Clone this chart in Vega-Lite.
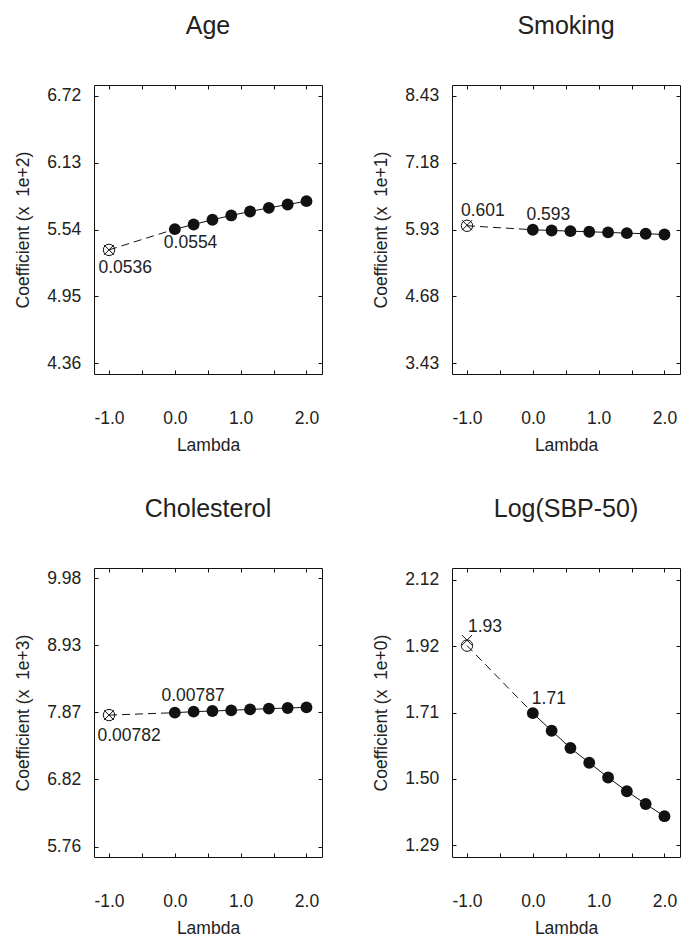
{
  "$schema": "https://vega.github.io/schema/vega-lite/v6.json",
  "background": "white",
  "padding": {"left": 14, "top": 13, "right": 0, "bottom": 0},
  "datasets": {
    "pts": [
      {"panel": "Age", "lambda": -1, "coef": 5.36, "kind": "open"},
      {"panel": "Age", "lambda": -1, "coef": 5.36, "kind": "cross", "label": "0.0536"},
      {"panel": "Age", "lambda": 0, "coef": 5.543, "kind": "fit", "label": "0.0554"},
      {"panel": "Age", "lambda": 0.2857, "coef": 5.584, "kind": "fit"},
      {"panel": "Age", "lambda": 0.5714, "coef": 5.626, "kind": "fit"},
      {"panel": "Age", "lambda": 0.8571, "coef": 5.664, "kind": "fit"},
      {"panel": "Age", "lambda": 1.1429, "coef": 5.699, "kind": "fit"},
      {"panel": "Age", "lambda": 1.4286, "coef": 5.731, "kind": "fit"},
      {"panel": "Age", "lambda": 1.7143, "coef": 5.761, "kind": "fit"},
      {"panel": "Age", "lambda": 2, "coef": 5.79, "kind": "fit"},
      {"panel": "Smoking", "lambda": -1, "coef": 6.0, "kind": "open"},
      {"panel": "Smoking", "lambda": -1, "coef": 6.01, "kind": "cross", "label": "0.601"},
      {"panel": "Smoking", "lambda": 0, "coef": 5.925, "kind": "fit", "label": "0.593"},
      {"panel": "Smoking", "lambda": 0.2857, "coef": 5.912, "kind": "fit"},
      {"panel": "Smoking", "lambda": 0.5714, "coef": 5.899, "kind": "fit"},
      {"panel": "Smoking", "lambda": 0.8571, "coef": 5.888, "kind": "fit"},
      {"panel": "Smoking", "lambda": 1.1429, "coef": 5.875, "kind": "fit"},
      {"panel": "Smoking", "lambda": 1.4286, "coef": 5.862, "kind": "fit"},
      {"panel": "Smoking", "lambda": 1.7143, "coef": 5.851, "kind": "fit"},
      {"panel": "Smoking", "lambda": 2, "coef": 5.837, "kind": "fit"},
      {"panel": "Cholesterol", "lambda": -1, "coef": 7.83, "kind": "open"},
      {"panel": "Cholesterol", "lambda": -1, "coef": 7.83, "kind": "cross", "label": "0.00782"},
      {"panel": "Cholesterol", "lambda": 0, "coef": 7.868, "kind": "fit", "label": "0.00787"},
      {"panel": "Cholesterol", "lambda": 0.2857, "coef": 7.884, "kind": "fit"},
      {"panel": "Cholesterol", "lambda": 0.5714, "coef": 7.895, "kind": "fit"},
      {"panel": "Cholesterol", "lambda": 0.8571, "coef": 7.905, "kind": "fit"},
      {"panel": "Cholesterol", "lambda": 1.1429, "coef": 7.92, "kind": "fit"},
      {"panel": "Cholesterol", "lambda": 1.4286, "coef": 7.931, "kind": "fit"},
      {"panel": "Cholesterol", "lambda": 1.7143, "coef": 7.942, "kind": "fit"},
      {"panel": "Cholesterol", "lambda": 2, "coef": 7.952, "kind": "fit"},
      {"panel": "LogSBP", "lambda": -1, "coef": 1.917, "kind": "open"},
      {"panel": "LogSBP", "lambda": -1, "coef": 1.934, "kind": "cross", "label": "1.93"},
      {"panel": "LogSBP", "lambda": 0, "coef": 1.706, "kind": "fit", "label": "1.71"},
      {"panel": "LogSBP", "lambda": 0.2857, "coef": 1.651, "kind": "fit"},
      {"panel": "LogSBP", "lambda": 0.5714, "coef": 1.597, "kind": "fit"},
      {"panel": "LogSBP", "lambda": 0.8571, "coef": 1.551, "kind": "fit"},
      {"panel": "LogSBP", "lambda": 1.1429, "coef": 1.505, "kind": "fit"},
      {"panel": "LogSBP", "lambda": 1.4286, "coef": 1.462, "kind": "fit"},
      {"panel": "LogSBP", "lambda": 1.7143, "coef": 1.422, "kind": "fit"},
      {"panel": "LogSBP", "lambda": 2, "coef": 1.384, "kind": "fit"}
    ]
  },
  "data": {"name": "pts"},
  "columns": 2,
  "bounds": "flush",
  "spacing": {"row": 194, "column": 130},
  "concat": [
    {
      "width": 228, "height": 289,
      "title": {"text": "Age"},
      "transform": [{"filter": "datum.panel == 'Age'"}],
      "layer": [
        {"transform": [{"filter": "datum.kind == 'open' || (datum.kind == 'fit' && datum.lambda == 0)"}],
         "mark": {"type": "line", "strokeDash": [8, 5], "color": "#111", "strokeWidth": 1},
         "encoding": {"x": {"field": "lambda", "type": "quantitative", "scale": {"domain": [-1.228, 2.236], "nice": false, "zero": false}, "axis": null},
                      "y": {"field": "coef", "type": "quantitative", "scale": {"domain": [4.264, 6.816], "nice": false, "zero": false}, "axis": null}}},
        {"transform": [{"filter": "datum.kind == 'fit'"}],
         "mark": {"type": "line", "color": "#111", "strokeWidth": 1},
         "encoding": {"x": {"field": "lambda", "type": "quantitative", "axis": {"orient": "top", "values": [-1, -0.5, 0, 0.5, 1, 1.5, 2], "labels": false, "title": null}},
                      "y": {"field": "coef", "type": "quantitative", "axis": {"orient": "right", "values": [4.36, 4.95, 5.54, 6.13, 6.72], "labels": false, "title": null}}}},
        {"transform": [{"filter": "datum.kind == 'fit'"}],
         "mark": {"type": "point", "shape": "circle", "filled": true, "size": 140, "color": "#111", "opacity": 1},
         "encoding": {"x": {"field": "lambda", "type": "quantitative", "axis": {"orient": "bottom", "values": [-1, -0.5, 0, 0.5, 1, 1.5, 2], "labelExpr": "datum.value % 1 == 0 ? (datum.value < 0 ? '-' : '') + format(abs(datum.value), '.1f') : ''", "title": "Lambda"}},
                      "y": {"field": "coef", "type": "quantitative", "axis": {"orient": "left", "values": [4.36, 4.95, 5.54, 6.13, 6.72], "format": ".2f", "title": "Coefficient (x\u00a0 1e+2)"}}}},
        {"transform": [{"filter": "datum.kind == 'open'"}],
         "mark": {"type": "point", "shape": "circle", "filled": false, "size": 130, "color": "#111", "strokeWidth": 1, "opacity": 1},
         "encoding": {"x": {"field": "lambda", "type": "quantitative", "axis": null}, "y": {"field": "coef", "type": "quantitative", "axis": null}}},
        {"transform": [{"filter": "datum.kind == 'cross'"}],
         "mark": {"type": "point", "shape": "M-0.85,-0.85L0.85,0.85M-0.85,0.85L0.85,-0.85", "filled": false, "size": 140, "color": "#111", "strokeWidth": 1, "opacity": 1},
         "encoding": {"x": {"field": "lambda", "type": "quantitative", "axis": null}, "y": {"field": "coef", "type": "quantitative", "axis": null}}},
        {"transform": [{"filter": "datum.kind == 'cross'"}],
         "mark": {"type": "text", "align": "left", "baseline": "alphabetic", "dx": -10.6, "dy": 23, "fontSize": 17.5, "font": "Liberation Sans", "color": "#222"},
         "encoding": {"x": {"field": "lambda", "type": "quantitative", "axis": null}, "y": {"field": "coef", "type": "quantitative", "axis": null}, "text": {"field": "label"}}},
        {"transform": [{"filter": "datum.kind == 'fit' && datum.lambda == 0"}],
         "mark": {"type": "text", "align": "left", "baseline": "alphabetic", "dx": -11, "dy": 19.3, "fontSize": 17.5, "font": "Liberation Sans", "color": "#222"},
         "encoding": {"x": {"field": "lambda", "type": "quantitative", "axis": null}, "y": {"field": "coef", "type": "quantitative", "axis": null}, "text": {"field": "label"}}}
      ],
      "resolve": {"axis": {"x": "independent", "y": "independent"}}
    },
    {
      "width": 228, "height": 289,
      "title": {"text": "Smoking"},
      "transform": [{"filter": "datum.panel == 'Smoking'"}],
      "layer": [
        {"transform": [{"filter": "datum.kind == 'open' || (datum.kind == 'fit' && datum.lambda == 0)"}],
         "mark": {"type": "line", "strokeDash": [8, 5], "color": "#111", "strokeWidth": 1},
         "encoding": {"x": {"field": "lambda", "type": "quantitative", "scale": {"domain": [-1.228, 2.236], "nice": false, "zero": false}, "axis": null},
                      "y": {"field": "coef", "type": "quantitative", "scale": {"domain": [3.228, 8.632], "nice": false, "zero": false}, "axis": null}}},
        {"transform": [{"filter": "datum.kind == 'fit'"}],
         "mark": {"type": "line", "color": "#111", "strokeWidth": 1},
         "encoding": {"x": {"field": "lambda", "type": "quantitative", "axis": {"orient": "top", "values": [-1, -0.5, 0, 0.5, 1, 1.5, 2], "labels": false, "title": null}},
                      "y": {"field": "coef", "type": "quantitative", "axis": {"orient": "right", "values": [3.43, 4.68, 5.93, 7.18, 8.43], "labels": false, "title": null}}}},
        {"transform": [{"filter": "datum.kind == 'fit'"}],
         "mark": {"type": "point", "shape": "circle", "filled": true, "size": 140, "color": "#111", "opacity": 1},
         "encoding": {"x": {"field": "lambda", "type": "quantitative", "axis": {"orient": "bottom", "values": [-1, -0.5, 0, 0.5, 1, 1.5, 2], "labelExpr": "datum.value % 1 == 0 ? (datum.value < 0 ? '-' : '') + format(abs(datum.value), '.1f') : ''", "title": "Lambda"}},
                      "y": {"field": "coef", "type": "quantitative", "axis": {"orient": "left", "values": [3.43, 4.68, 5.93, 7.18, 8.43], "format": ".2f", "title": "Coefficient (x\u00a0 1e+1)"}}}},
        {"transform": [{"filter": "datum.kind == 'open'"}],
         "mark": {"type": "point", "shape": "circle", "filled": false, "size": 130, "color": "#111", "strokeWidth": 1, "opacity": 1},
         "encoding": {"x": {"field": "lambda", "type": "quantitative", "axis": null}, "y": {"field": "coef", "type": "quantitative", "axis": null}}},
        {"transform": [{"filter": "datum.kind == 'cross'"}],
         "mark": {"type": "point", "shape": "M-0.85,-0.85L0.85,0.85M-0.85,0.85L0.85,-0.85", "filled": false, "size": 140, "color": "#111", "strokeWidth": 1, "opacity": 1},
         "encoding": {"x": {"field": "lambda", "type": "quantitative", "axis": null}, "y": {"field": "coef", "type": "quantitative", "axis": null}}},
        {"transform": [{"filter": "datum.kind == 'cross'"}],
         "mark": {"type": "text", "align": "left", "baseline": "alphabetic", "dx": -6, "dy": -9.7, "fontSize": 17.5, "font": "Liberation Sans", "color": "#222"},
         "encoding": {"x": {"field": "lambda", "type": "quantitative", "axis": null}, "y": {"field": "coef", "type": "quantitative", "axis": null}, "text": {"field": "label"}}},
        {"transform": [{"filter": "datum.kind == 'fit' && datum.lambda == 0"}],
         "mark": {"type": "text", "align": "left", "baseline": "alphabetic", "dx": -6.3, "dy": -9.5, "fontSize": 17.5, "font": "Liberation Sans", "color": "#222"},
         "encoding": {"x": {"field": "lambda", "type": "quantitative", "axis": null}, "y": {"field": "coef", "type": "quantitative", "axis": null}, "text": {"field": "label"}}}
      ],
      "resolve": {"axis": {"x": "independent", "y": "independent"}}
    },
    {
      "width": 228, "height": 289,
      "title": {"text": "Cholesterol"},
      "transform": [{"filter": "datum.panel == 'Cholesterol'"}],
      "layer": [
        {"transform": [{"filter": "datum.kind == 'open' || (datum.kind == 'fit' && datum.lambda == 0)"}],
         "mark": {"type": "line", "strokeDash": [8, 5], "color": "#111", "strokeWidth": 1},
         "encoding": {"x": {"field": "lambda", "type": "quantitative", "scale": {"domain": [-1.228, 2.236], "nice": false, "zero": false}, "axis": null},
                      "y": {"field": "coef", "type": "quantitative", "scale": {"domain": [5.597, 10.145], "nice": false, "zero": false}, "axis": null}}},
        {"transform": [{"filter": "datum.kind == 'fit'"}],
         "mark": {"type": "line", "color": "#111", "strokeWidth": 1},
         "encoding": {"x": {"field": "lambda", "type": "quantitative", "axis": {"orient": "top", "values": [-1, -0.5, 0, 0.5, 1, 1.5, 2], "labels": false, "title": null}},
                      "y": {"field": "coef", "type": "quantitative", "axis": {"orient": "right", "values": [5.762, 6.817, 7.872, 8.927, 9.982], "labels": false, "title": null}}}},
        {"transform": [{"filter": "datum.kind == 'fit'"}],
         "mark": {"type": "point", "shape": "circle", "filled": true, "size": 140, "color": "#111", "opacity": 1},
         "encoding": {"x": {"field": "lambda", "type": "quantitative", "axis": {"orient": "bottom", "values": [-1, -0.5, 0, 0.5, 1, 1.5, 2], "labelExpr": "datum.value % 1 == 0 ? (datum.value < 0 ? '-' : '') + format(abs(datum.value), '.1f') : ''", "title": "Lambda"}},
                      "y": {"field": "coef", "type": "quantitative", "axis": {"orient": "left", "values": [5.762, 6.817, 7.872, 8.927, 9.982], "format": ".2f", "title": "Coefficient (x\u00a0 1e+3)"}}}},
        {"transform": [{"filter": "datum.kind == 'open'"}],
         "mark": {"type": "point", "shape": "circle", "filled": false, "size": 130, "color": "#111", "strokeWidth": 1, "opacity": 1},
         "encoding": {"x": {"field": "lambda", "type": "quantitative", "axis": null}, "y": {"field": "coef", "type": "quantitative", "axis": null}}},
        {"transform": [{"filter": "datum.kind == 'cross'"}],
         "mark": {"type": "point", "shape": "M-0.85,-0.85L0.85,0.85M-0.85,0.85L0.85,-0.85", "filled": false, "size": 140, "color": "#111", "strokeWidth": 1, "opacity": 1},
         "encoding": {"x": {"field": "lambda", "type": "quantitative", "axis": null}, "y": {"field": "coef", "type": "quantitative", "axis": null}}},
        {"transform": [{"filter": "datum.kind == 'cross'"}],
         "mark": {"type": "text", "align": "left", "baseline": "alphabetic", "dx": -11.6, "dy": 25.8, "fontSize": 17.5, "font": "Liberation Sans", "color": "#222"},
         "encoding": {"x": {"field": "lambda", "type": "quantitative", "axis": null}, "y": {"field": "coef", "type": "quantitative", "axis": null}, "text": {"field": "label"}}},
        {"transform": [{"filter": "datum.kind == 'fit' && datum.lambda == 0"}],
         "mark": {"type": "text", "align": "left", "baseline": "alphabetic", "dx": -13.3, "dy": -12, "fontSize": 17.5, "font": "Liberation Sans", "color": "#222"},
         "encoding": {"x": {"field": "lambda", "type": "quantitative", "axis": null}, "y": {"field": "coef", "type": "quantitative", "axis": null}, "text": {"field": "label"}}}
      ],
      "resolve": {"axis": {"x": "independent", "y": "independent"}}
    },
    {
      "width": 228, "height": 289,
      "title": {"text": "Log(SBP-50)"},
      "transform": [{"filter": "datum.panel == 'LogSBP'"}],
      "layer": [
        {"transform": [{"filter": "datum.kind == 'open' || (datum.kind == 'fit' && datum.lambda == 0)"}],
         "mark": {"type": "line", "strokeDash": [8, 5], "color": "#111", "strokeWidth": 1},
         "encoding": {"x": {"field": "lambda", "type": "quantitative", "scale": {"domain": [-1.228, 2.236], "nice": false, "zero": false}, "axis": null},
                      "y": {"field": "coef", "type": "quantitative", "scale": {"domain": [1.2565, 2.1595], "nice": false, "zero": false}, "axis": null}}},
        {"transform": [{"filter": "datum.kind == 'fit'"}],
         "mark": {"type": "line", "color": "#111", "strokeWidth": 1},
         "encoding": {"x": {"field": "lambda", "type": "quantitative", "axis": {"orient": "top", "values": [-1, -0.5, 0, 0.5, 1, 1.5, 2], "labels": false, "title": null}},
                      "y": {"field": "coef", "type": "quantitative", "axis": {"orient": "right", "values": [1.293, 1.5005, 1.708, 1.9155, 2.123], "labels": false, "title": null}}}},
        {"transform": [{"filter": "datum.kind == 'fit'"}],
         "mark": {"type": "point", "shape": "circle", "filled": true, "size": 140, "color": "#111", "opacity": 1},
         "encoding": {"x": {"field": "lambda", "type": "quantitative", "axis": {"orient": "bottom", "values": [-1, -0.5, 0, 0.5, 1, 1.5, 2], "labelExpr": "datum.value % 1 == 0 ? (datum.value < 0 ? '-' : '') + format(abs(datum.value), '.1f') : ''", "title": "Lambda"}},
                      "y": {"field": "coef", "type": "quantitative", "axis": {"orient": "left", "values": [1.293, 1.5005, 1.708, 1.9155, 2.123], "format": ".2f", "title": "Coefficient (x\u00a0 1e+0)"}}}},
        {"transform": [{"filter": "datum.kind == 'open'"}],
         "mark": {"type": "point", "shape": "circle", "filled": false, "size": 130, "color": "#111", "strokeWidth": 1, "opacity": 1},
         "encoding": {"x": {"field": "lambda", "type": "quantitative", "axis": null}, "y": {"field": "coef", "type": "quantitative", "axis": null}}},
        {"transform": [{"filter": "datum.kind == 'cross'"}],
         "mark": {"type": "point", "shape": "M-0.85,-0.85L0.85,0.85M-0.85,0.85L0.85,-0.85", "filled": false, "size": 140, "color": "#111", "strokeWidth": 1, "opacity": 1},
         "encoding": {"x": {"field": "lambda", "type": "quantitative", "axis": null}, "y": {"field": "coef", "type": "quantitative", "axis": null}}},
        {"transform": [{"filter": "datum.kind == 'cross'"}],
         "mark": {"type": "text", "align": "left", "baseline": "alphabetic", "dx": 1, "dy": -8.1, "fontSize": 17.5, "font": "Liberation Sans", "color": "#222"},
         "encoding": {"x": {"field": "lambda", "type": "quantitative", "axis": null}, "y": {"field": "coef", "type": "quantitative", "axis": null}, "text": {"field": "label"}}},
        {"transform": [{"filter": "datum.kind == 'fit' && datum.lambda == 0"}],
         "mark": {"type": "text", "align": "left", "baseline": "alphabetic", "dx": -1, "dy": -8.7, "fontSize": 17.5, "font": "Liberation Sans", "color": "#222"},
         "encoding": {"x": {"field": "lambda", "type": "quantitative", "axis": null}, "y": {"field": "coef", "type": "quantitative", "axis": null}, "text": {"field": "label"}}}
      ],
      "resolve": {"axis": {"x": "independent", "y": "independent"}}
    }
  ],
  "config": {
    "font": "Liberation Sans",
    "view": {"stroke": "#111", "strokeWidth": 1},
    "title": {"fontSize": 25, "fontWeight": "normal", "font": "Liberation Sans", "color": "#222", "baseline": "alphabetic", "offset": 46, "anchor": "middle"},
    "axis": {
      "grid": false, "domain": false,
      "tickSize": -4, "tickColor": "#111", "tickWidth": 1,
      "labelFont": "Liberation Sans", "labelFontSize": 17.5, "labelColor": "#222",
      "titleFont": "Liberation Sans", "titleFontSize": 17.5, "titleFontWeight": "normal", "titleColor": "#222"
    },
    "axisX": {"labelPadding": 39, "titlePadding": 10, "labelFlush": false, "labelOverlap": false},
    "axisY": {"labelPadding": 17.3, "titlePadding": 14, "labelOverlap": false}
  }
}
